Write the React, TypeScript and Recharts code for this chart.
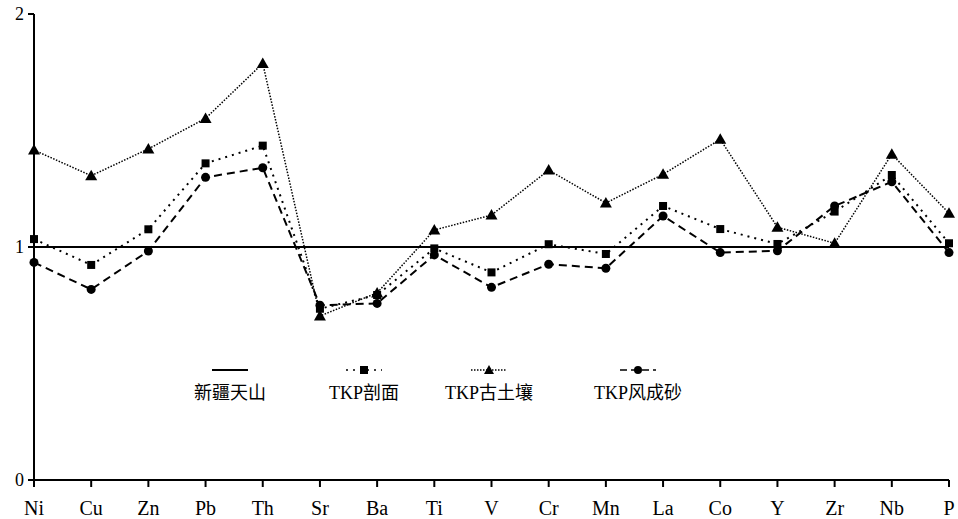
import { LineChart, Line, XAxis, YAxis, Legend } from 'recharts';

const elements = ['Ni', 'Cu', 'Zn', 'Pb', 'Th', 'Sr', 'Ba', 'Ti', 'V', 'Cr', 'Mn', 'La', 'Co', 'Y', 'Zr', 'Nb', 'P'];
const tianshan = [1, 1, 1, 1, 1, 1, 1, 1, 1, 1, 1, 1, 1, 1, 1, 1, 1];
const profile = [1.034, 0.923, 1.076, 1.359, 1.435, 0.735, 0.794, 0.994, 0.891, 1.012, 0.97, 1.176, 1.077, 1.013, 1.152, 1.309, 1.016];
const paleosol = [1.416, 1.306, 1.421, 1.552, 1.788, 0.704, 0.803, 1.073, 1.137, 1.33, 1.189, 1.312, 1.462, 1.085, 1.016, 1.398, 1.145];
const aeolian = [0.934, 0.818, 0.983, 1.299, 1.34, 0.75, 0.758, 0.966, 0.827, 0.926, 0.909, 1.133, 0.976, 0.984, 1.176, 1.28, 0.976];
const yTicks = [0, 1, 2];

const data = elements.map((name, i) => ({
  name,
  tianshan: tianshan[i],
  profile: profile[i],
  paleosol: paleosol[i],
  aeolian: aeolian[i],
}));

const FONT = "'Liberation Serif', 'Noto Sans CJK SC', serif";

const Square = (props: any) => {
  const { cx, cy, index } = props;
  return <rect key={'s' + index} x={cx - 4} y={cy - 4} width={8} height={8} fill="#000" />;
};
const Triangle = (props: any) => {
  const { cx, cy, index } = props;
  return <path key={'t' + index} d={`M${cx},${cy - 6} L${cx + 6},${cy + 4.5} L${cx - 6},${cy + 4.5} Z`} fill="#000" />;
};
const Circle = (props: any) => {
  const { cx, cy, index } = props;
  return <circle key={'c' + index} cx={cx} cy={cy} r={4.5} fill="#000" />;
};

const legendItems = [
  { label: '新疆天山', cx: 230, dash: undefined, marker: 'none' },
  { label: 'TKP剖面', cx: 364, dash: '2 5', marker: 'square' },
  { label: 'TKP古土壤', cx: 489, dash: '1.5 1.5', marker: 'triangle' },
  { label: 'TKP风成砂', cx: 638, dash: '7 4', marker: 'circle' },
];

const ChartLegend = () => (
  <svg width={958} height={50} style={{ display: 'block' }}>
    {legendItems.map((it) => (
      <g key={it.label}>
        <line x1={it.cx - 18} x2={it.cx + 18} y1={14} y2={14} stroke="#000" strokeWidth={it.marker === 'none' ? 2 : 1.5} strokeDasharray={it.dash} />
        {it.marker === 'square' && <rect x={it.cx - 4} y={10} width={8} height={8} fill="#000" />}
        {it.marker === 'triangle' && <path d={`M${it.cx},${9} L${it.cx + 5},${18} L${it.cx - 5},${18} Z`} fill="#000" />}
        {it.marker === 'circle' && <circle cx={it.cx} cy={14} r={4} fill="#000" />}
        <text x={it.cx} y={43} textAnchor="middle" style={{ fontSize: 18, fontFamily: FONT }} fill="#000">
          {it.label}
        </text>
      </g>
    ))}
  </svg>
);

export default function App() {
  return (
    <div style={{ position: 'absolute', left: 0, top: 0, background: '#fff', fontFamily: FONT }}>
      <LineChart width={958} height={519} data={data} margin={{ top: 14, right: 9, left: 0, bottom: 9 }} style={{ fontFamily: FONT }}>
        <XAxis
          dataKey="name"
          stroke="#000"
          strokeWidth={2}
          tickSize={7}
          height={30}
          tick={{ fill: '#000', style: { fontFamily: FONT, fontSize: 20 } }}
          tickMargin={14}
          interval={0}
        />
        <YAxis
          domain={[0, 2]}
          ticks={yTicks}
          width={34}
          stroke="#000"
          strokeWidth={2}
          tickSize={6}
          tick={{ fill: '#000', style: { fontFamily: FONT, fontSize: 18 } }}
          tickMargin={4}
        />
        <Legend
          verticalAlign="middle"
          layout="horizontal"
          content={<ChartLegend />}
          wrapperStyle={{ position: 'absolute', left: 0, top: 356, width: 958 }}
        />
        <Line dataKey="tianshan" stroke="#000" strokeWidth={2} dot={false} isAnimationActive={false} />
        <Line dataKey="profile" stroke="#000" strokeWidth={2} strokeDasharray="2 5" dot={Square} isAnimationActive={false} />
        <Line dataKey="paleosol" stroke="#000" strokeWidth={1.5} strokeDasharray="1.5 1.5" dot={Triangle} isAnimationActive={false} />
        <Line dataKey="aeolian" stroke="#000" strokeWidth={2} strokeDasharray="8 5" dot={Circle} isAnimationActive={false} />
      </LineChart>
    </div>
  );
}
